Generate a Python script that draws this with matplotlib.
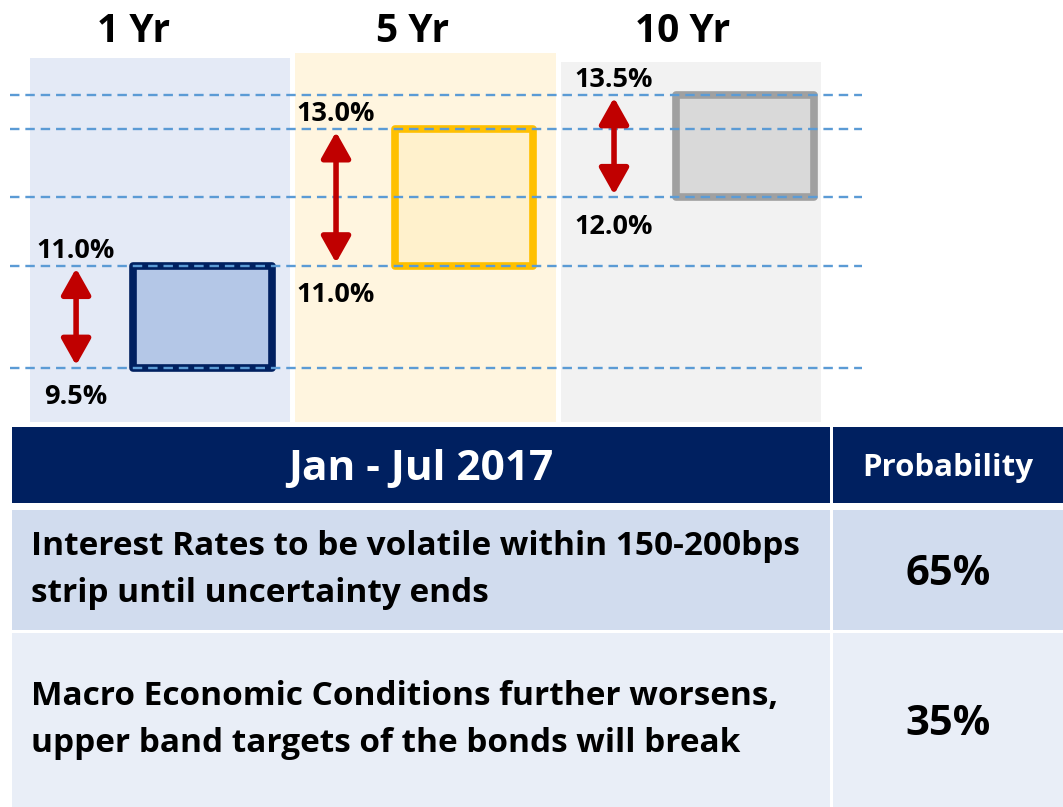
import matplotlib
matplotlib.use("Agg")
import matplotlib.pyplot as plt
import matplotlib.transforms as mtransforms
from matplotlib.patches import FancyArrowPatch, Rectangle

plt.rcParams["font.family"] = ["Open Sans", "DejaVu Sans"]
plt.rcParams["font.weight"] = "bold"

# ---------- data ----------
tenors = ["1 Yr", "5 Yr", "10 Yr"]
range_low = [9.5, 11.0, 12.0]
range_high = [11.0, 13.0, 13.5]

period = "Jan - Jul 2017"
prob_header = "Probability"
scenarios = [
    "Interest Rates to be volatile within 150-200bps\nstrip until uncertainty ends",
    "Macro Economic Conditions further worsens,\nupper band targets of the bonds will break",
]
probabilities = ["65%", "35%"]

# ---------- style ----------
col_bg = ["#E4EAF6", "#FFF5DF", "#F2F2F2"]
col_top = [14.04, 14.12, 13.98]
box_edge = ["#002060", "#FFC000", "#A0A0A0"]
box_fill = ["#B4C7E7", "#FFF1CC", "#D9D9D9"]
box_dx = [0.16, 0.145, 0.205]
arrow_dx = [-0.316, -0.337, -0.29]
title_dx = [-0.10, -0.05, -0.03]
navy = "#002060"
row_fill = ["#D1DCEE", "#E9EEF7"]

W, H = 1063, 807
fig = plt.figure(figsize=(W / 100, H / 100), dpi=100)

# ---------- top: rate ranges ----------
top_h = 422
ax = fig.add_axes([0, 1 - top_h / H, 1, top_h / H])
ylo, yhi = 8.71, 14.89
ax.set_xlim(-0.6026, 3.401)
ax.set_ylim(ylo, yhi)
ax.axis("off")

x = list(range(len(tenors)))
ax.bar(x, [t - ylo for t in col_top], bottom=ylo, width=0.98,
       color=col_bg, zorder=0)

ax.bar([i + d for i, d in zip(x, box_dx)],
       [h - l for l, h in zip(range_low, range_high)],
       bottom=range_low, width=0.52, color=box_fill, edgecolor=box_edge,
       linewidth=5.5, joinstyle="round", zorder=2)

levels = sorted(set(range_low + range_high))
ax.hlines(levels, -0.565, 2.644, colors="#5B9BD5", linestyles=(0, (4, 2.5)),
          linewidth=1.7, zorder=3)

for i, (lo, hi) in enumerate(zip(range_low, range_high)):
    xa = i + arrow_dx[i]
    arr = FancyArrowPatch((xa, lo), (xa, hi),
                          arrowstyle="<|-|>,head_length=0.8,head_width=0.45",
                          mutation_scale=20, color="#C00000", lw=4,
                          shrinkA=2, shrinkB=2, joinstyle="round", zorder=4)
    ax.add_patch(arr)
    ax.annotate(f"{hi:.1f}%", (xa, hi), xytext=(0, 13), textcoords="offset points",
                ha="center", va="center_baseline", fontsize=19.5, zorder=5)
    ax.annotate(f"{lo:.1f}%", (xa, lo), xytext=(0, -19), textcoords="offset points",
                ha="center", va="center_baseline", fontsize=19.5, zorder=5)

trans = mtransforms.blended_transform_factory(ax.transData, ax.transAxes)
for i, name in enumerate(tenors):
    ax.text(i + title_dx[i], 0.936, name, transform=trans, ha="center",
            va="center_baseline", fontsize=28)

# ---------- bottom: scenario table ----------
tab_top = 425
tax = fig.add_axes([0, 0, 1, (H - tab_top) / H])
tax.set_xlim(0, 1)
tax.set_ylim(1, 0)
tax.axis("off")

col_edges = [(0.0113, 0.7808), (0.7836, 1.0)]
row_edges = [(0.005, 0.204), (0.2225, 0.5366), (0.5445, 1.0)]

for (c0, c1) in col_edges:
    r0, r1 = row_edges[0]
    tax.add_patch(Rectangle((c0, r0), c1 - c0, r1 - r0, color=navy, lw=0))
for k, (r0, r1) in enumerate(row_edges[1:]):
    for (c0, c1) in col_edges:
        tax.add_patch(Rectangle((c0, r0), c1 - c0, r1 - r0, color=row_fill[k], lw=0))

hy = sum(row_edges[0]) / 2
tax.text(sum(col_edges[0]) / 2, hy, period, color="white", ha="center",
         va="center_baseline", fontsize=30.5)
tax.text(sum(col_edges[1]) / 2, hy, prob_header, color="white", ha="center",
         va="center_baseline", fontsize=22.5)

for k, (txt, p) in enumerate(zip(scenarios, probabilities)):
    r0, r1 = row_edges[k + 1]
    cy = (r0 + r1) / 2
    tax.text(col_edges[0][0] + 0.018, cy, txt, ha="left", va="center",
             fontsize=24, linespacing=1.55)
    tax.text(sum(col_edges[1]) / 2, cy, p, ha="center", va="center_baseline",
             fontsize=30)

fig.savefig("out.png", dpi=100)
